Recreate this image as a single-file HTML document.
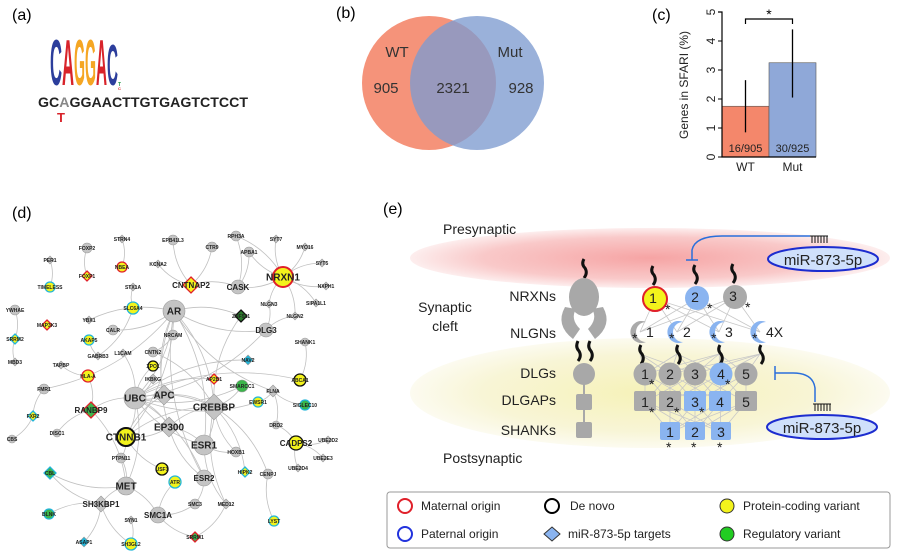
<!DOCTYPE html>
<html><head><meta charset="utf-8">
<style>
html,body{margin:0;padding:0;background:#fff;}
svg{display:block;font-family:"Liberation Sans","DejaVu Sans",sans-serif;}
</style></head>
<body>
<svg id="fig" width="900" height="551" viewBox="0 0 900 551" xmlns="http://www.w3.org/2000/svg">
<defs>
<radialGradient id="pinkG" cx="50%" cy="50%" r="50%"><stop offset="0" stop-color="#f6a4a4"/><stop offset="0.7" stop-color="#f9c9c9"/><stop offset="1" stop-color="#fdeeee"/></radialGradient>
<radialGradient id="yelG" cx="50%" cy="50%" r="50%"><stop offset="0" stop-color="#f6f2b8"/><stop offset="0.7" stop-color="#f8f5d6"/><stop offset="1" stop-color="#fcfbf0"/></radialGradient>
</defs>

<!-- Panel a -->
<g>
<text x="12" y="20" font-size="16">(a)</text>
<g font-family="Liberation Sans, sans-serif" font-weight="bold">
<text transform="translate(50,85) scale(1,3.8)" font-size="17" fill="#2c3e9c" textLength="12" lengthAdjust="spacingAndGlyphs">C</text>
<text transform="translate(62,85) scale(1,3.8)" font-size="17" fill="#d8232a" textLength="12" lengthAdjust="spacingAndGlyphs">A</text>
<text transform="translate(74,85) scale(1,3.8)" font-size="17" fill="#f5a623" textLength="11" lengthAdjust="spacingAndGlyphs">G</text>
<text transform="translate(85,85) scale(1,3.8)" font-size="17" fill="#f5a623" textLength="11" lengthAdjust="spacingAndGlyphs">G</text>
<text transform="translate(96,85) scale(1,3.8)" font-size="17" fill="#d8232a" textLength="11" lengthAdjust="spacingAndGlyphs">A</text>
<text transform="translate(107,85) scale(1,3.4)" font-size="17" fill="#2c3e9c" textLength="11" lengthAdjust="spacingAndGlyphs">C</text>
<text x="118" y="86" font-size="5" fill="#2a9c4a">T</text>
<text x="118" y="90" font-size="4" fill="#d8232a">C</text>
</g>
<text x="38" y="107" font-size="14" font-weight="bold" fill="#222" textLength="210" lengthAdjust="spacingAndGlyphs">GC<tspan fill="#888">A</tspan>GGAACTTGTGAGTCTCCT</text>
<text x="57" y="122" font-size="13" font-weight="bold" fill="#d8232a">T</text>
</g>

<!-- Panel b -->
<g>
<text x="336" y="18" font-size="16">(b)</text>
<ellipse cx="429" cy="83" rx="67" ry="67" fill="#f4876b" opacity="0.9"/>
<ellipse cx="477" cy="83" rx="67" ry="67" fill="#7e9bd0" opacity="0.78"/>
<g font-size="15" fill="#333" text-anchor="middle">
<text x="397" y="57">WT</text>
<text x="510" y="57">Mut</text>
<text x="386" y="93">905</text>
<text x="453" y="93">2321</text>
<text x="521" y="93">928</text>
</g>
</g>

<!-- Panel c -->
<g id="panelC">
<text x="652" y="20" font-size="16">(c)</text>
<text transform="translate(688,85) rotate(-90)" font-size="12" text-anchor="middle" fill="#222">Genes in SFARI (%)</text>
</g>

<!-- Panel d -->
<g>
<text x="12" y="218" font-size="16">(d)</text>
<g id="edges" fill="none" stroke="#c0c0c0" stroke-width="0.8"></g>
<g id="nodes"></g>
</g>

<!-- Panel e -->
<g>
<text x="383" y="214" font-size="16">(e)</text>
<ellipse cx="650" cy="258" rx="240" ry="30" fill="url(#pinkG)"/>
<ellipse cx="650" cy="393" rx="240" ry="55" fill="url(#yelG)"/>
<g font-size="14" fill="#222">
<text x="443" y="234">Presynaptic</text>
<text x="445" y="312" text-anchor="middle">Synaptic</text>
<text x="445" y="331" text-anchor="middle">cleft</text>
<text x="443" y="463">Postsynaptic</text>
<g text-anchor="end">
<text x="556" y="301">NRXNs</text>
<text x="556" y="338">NLGNs</text>
<text x="556" y="378">DLGs</text>
<text x="556" y="405">DLGAPs</text>
<text x="556" y="435">SHANKs</text>
</g>
</g>
<g fill="#a8a8a8">
<path d="M584 259 q-3 5 1 9 q3 5 -1 10" stroke="#111" stroke-width="3" fill="none"/>
<ellipse cx="584" cy="297" rx="15" ry="19"/>
<path d="M565 307 q-10 18 8 32 l7 -10 q-10 -10 -4 -20 z"/>
<path d="M603 307 q10 18 -8 32 l-7 -10 q10 -10 4 -20 z"/>
<path d="M578 341 q-3 6 1 10 q3 5 -1 10 M590 341 q-3 6 1 10 q3 5 -1 10" stroke="#111" stroke-width="3" fill="none"/>
<circle cx="584" cy="374" r="11"/>
<line x1="584" y1="384" x2="584" y2="430" stroke="#a8a8a8" stroke-width="2"/>
<rect x="576" y="394" width="16" height="16" rx="2"/>
<rect x="576" y="422" width="16" height="16" rx="2"/>
</g>
<g id="synLines" stroke="#c8c8c8" stroke-width="0.8" fill="none"></g>
<g id="synNodes" font-size="14" fill="#222"></g>
<g>
<path d="M692 260 l0 -10 q3 -14 30 -14 l88 0" stroke="#2a6fdb" stroke-width="1.5" fill="none"/>
<line x1="686" y1="260" x2="698" y2="260" stroke="#2a6fdb" stroke-width="1.5"/>
<path d="M810 236 h18 M812 236 v7 M815 236 v7 M818 236 v7 M821 236 v7 M824 236 v7 M827 236 v7" stroke="#111" stroke-width="1"/>
<ellipse cx="823" cy="259" rx="55" ry="12" fill="#cfe0fb" stroke="#1c2ccf" stroke-width="2"/>
<text x="823" y="265" font-size="15" text-anchor="middle" fill="#222">miR-873-5p</text>
</g>
<g>
<path d="M815 402 l0 -14 q-2 -15 -22 -15 l-18 0" stroke="#2a6fdb" stroke-width="1.5" fill="none"/>
<line x1="775" y1="366" x2="775" y2="380" stroke="#2a6fdb" stroke-width="1.5"/>
<path d="M813 404 h18 M815 404 v7 M818 404 v7 M821 404 v7 M824 404 v7 M827 404 v7 M830 404 v7" stroke="#111" stroke-width="1"/>
<ellipse cx="822" cy="427" rx="55" ry="12" fill="#cfe0fb" stroke="#1c2ccf" stroke-width="2"/>
<text x="822" y="433" font-size="15" text-anchor="middle" fill="#222">miR-873-5p</text>
</g>
<g>
<rect x="387" y="492" width="503" height="56" rx="3" fill="#fff" stroke="#999" stroke-width="1"/>
<g font-size="12" fill="#222">
<g><circle cx="405" cy="506" r="7" fill="none" stroke="#e0202a" stroke-width="2"/><text x="421" y="510">Maternal origin</text></g>
<g><circle cx="405" cy="534" r="7" fill="none" stroke="#2233dd" stroke-width="2"/><text x="421" y="538">Paternal origin</text></g>
<g><circle cx="552" cy="506" r="7" fill="none" stroke="#000" stroke-width="2"/><text x="570" y="510">De novo</text></g>
<g><path d="M552 527 l8 7 l-8 7 l-8 -7 z" fill="#8ab4f0" stroke="#333" stroke-width="1"/><text x="568" y="538">miR-873-5p targets</text></g>
<g><circle cx="727" cy="506" r="7" fill="#f3f31c" stroke="#333" stroke-width="1"/><text x="743" y="510">Protein-coding variant</text></g>
<g><circle cx="727" cy="534" r="7" fill="#22cc22" stroke="#333" stroke-width="1"/><text x="743" y="538">Regulatory variant</text></g>
</g>
</g>
</g>
</svg>

<script>
const NS = "http://www.w3.org/2000/svg";
function mk(tag, attrs, parent){const e=document.createElementNS(NS,tag);for(const k in attrs)e.setAttribute(k,attrs[k]);parent.appendChild(e);return e;}

/* ---------- Panel c chart data ---------- */
const barCategories = ["WT","Mut"];
const barValues = [1.75, 3.25];
const errLow = [0.85, 2.05];
const errHigh = [2.65, 4.4];
const barLabels = ["16/905","30/925"];
const yTicks = [0,1,2,3,4,5];
const barColors = ["#f4876b","#8fa8d8"];

const pc = document.getElementById('panelC');
const x0 = 722, bw = 47, yBase = 157, yTop = 12, yMax = 5;
function yS(v){return yBase - (v/yMax)*(yBase-yTop);}
function xS(i){return x0 + i*bw;}
barCategories.forEach((c,i)=>{
  const r = mk('rect',{x:xS(i),y:yS(barValues[i]),width:bw,height:yBase-yS(barValues[i]),fill:barColors[i],stroke:'#555','stroke-width':0.6},pc);
  
  
  const e = mk('line',{x1:xS(i)+bw/2,x2:xS(i)+bw/2,y1:yS(errLow[i]),y2:yS(errHigh[i]),stroke:'#000','stroke-width':1.3},pc);
  
  
  const t = mk('text',{x:xS(i)+bw/2,y:yBase-5,'font-size':11,'text-anchor':'middle',fill:'#222'},pc);
  t.textContent = barLabels[i];
  
  
  const xl = mk('text',{x:xS(i)+bw/2,y:171,'font-size':12,'text-anchor':'middle',fill:'#222'},pc);
  xl.textContent = c;
  
  
});
const ax = mk('path',{d:`M${x0-4} ${yTop} H${x0} V${yBase} H${x0+2*bw}`,stroke:'#000','stroke-width':1.2,fill:'none'},pc);


yTicks.forEach(v=>{
  mk('line',{x1:x0-4,x2:x0,y1:yS(v),y2:yS(v),stroke:'#000','stroke-width':1},pc);
  const t = mk('text',{transform:`translate(${x0-7},${yS(v)}) rotate(-90)`,'font-size':12,'text-anchor':'middle',fill:'#222'},pc);
  t.textContent = v;
  
  
});
const br = mk('path',{d:`M${xS(0)+bw/2} 24 V19 H${xS(1)+bw/2} V24`,stroke:'#000','stroke-width':1.2,fill:'none'},pc);


const st = mk('text',{x:(xS(0)+xS(1))/2+bw/2,y:19,'font-size':14,'text-anchor':'middle'},pc);
st.textContent='*';



/* ---------- Panel d network ---------- */
const G='#c4c4c4',Y='#f3f31c',GR='#3bb54a',R='#e0202a',C='#22b5d8',K='#111',S='#999';
const nodes = [
["NRXN1",283,277,'c',10,Y,R],["CNTNAP2",191,285,'d',8,Y,R],["CASK",238,287,'c',7,G,S],["AR",174,311,'c',11,G,S],
["ZNF521",241,316,'d',6,'#2a7a2a',K],["DLG3",266,330,'c',7,G,S],["UBC",135,398,'c',11,G,S],["APC",164,395,'d',10,G,S],
["CREBBP",214,407,'d',13,G,S],["EP300",169,427,'d',10,G,S],["ESR1",204,445,'c',10,G,S],["CTNNB1",126,437,'c',9,Y,K],
["MET",126,486,'c',9,G,S],["SH3KBP1",101,504,'d',8,G,S],["SMC1A",158,515,'c',8,G,S],["ESR2",204,478,'c',8,G,S],
["RANBP9",91,410,'d',8,GR,R],["PER1",50,260,'d',4,G,S],["TIMELESS",50,287,'c',5,Y,C],["FOXP2",87,248,'c',5,G,S],
["FOXP1",87,276,'d',5,Y,R],["STRN4",122,239,'d',4,G,S],["NBEA",122,267,'c',5,Y,R],["EPB41L3",173,240,'c',5,G,S],
["KCNA2",158,264,'d',4,G,S],["CTR9",212,247,'c',5,G,S],["RPH3A",236,236,'c',5,G,S],["APBA1",249,252,'c',5,G,S],
["SYT7",276,239,'d',4,G,S],["MYO16",305,247,'d',4,G,S],["SYT5",322,263,'d',4,G,S],["NXPH1",326,286,'d',4,G,S],
["SIPA1L1",316,303,'d',4,G,S],["NLGN3",269,304,'d',4,G,S],["NLGN2",295,316,'d',4,G,S],["STX1A",133,287,'d',4,G,S],
["SLC6A4",133,308,'c',6,Y,C],["YWHAE",15,310,'c',5,G,S],["MAP3K3",47,325,'d',5,Y,R],["SRRM2",15,339,'d',5,Y,C],
["MBD3",15,362,'d',4,G,S],["YBX1",89,320,'d',4,G,S],["CALR",113,330,'c',5,G,S],["AKAP5",89,340,'c',5,Y,C],
["NRCAM",173,335,'c',5,G,S],["GABRB3",98,356,'d',4,G,S],["L1CAM",123,353,'d',4,G,S],["CNTN2",153,352,'c',5,G,S],
["XPO1",153,366,'c',5,Y,K],["TAPBP",61,365,'d',4,G,S],["HLA-A",88,376,'c',6,Y,R],["IKBKG",153,379,'d',5,G,S],
["AP2B1",214,379,'d',5,Y,R],["NAV2",248,360,'d',5,C,S],["SHANK1",305,342,'c',4,G,S],["ABCA1",300,380,'c',6,Y,K],
["SMARCC1",242,386,'c',6,GR,S],["FLNA",273,391,'d',6,G,S],["EWSR1",258,402,'c',5,Y,C],["SIGLEC10",305,405,'c',5,GR,C],
["FMR1",44,389,'c',5,G,S],["FXR2",33,416,'d',5,Y,C],["CBS",12,439,'c',4,G,S],["DISC1",57,433,'c',4,G,S],
["DRD2",276,425,'c',4,G,S],["CADPS2",296,443,'c',7,Y,K],["UBE2D2",328,440,'d',4,G,S],["UBE2E3",323,458,'d',4,G,S],
["UBE2D4",298,468,'d',4,G,S],["HOXB1",236,452,'c',5,G,S],["PTPN11",121,458,'c',5,G,S],["CBL",50,473,'d',6,GR,C],
["USF1",162,469,'c',6,Y,K],["ATR",175,482,'c',6,Y,C],["HIPK2",245,472,'d',5,Y,C],["CENPJ",268,474,'c',5,G,S],
["MED12",226,504,'d',5,G,S],["SMC3",195,504,'c',5,G,S],["LYST",274,521,'c',5,Y,C],["BLNK",49,514,'c',5,GR,C],
["SYN1",131,520,'d',4,G,S],["ASAP1",84,542,'d',5,C,S],["SH3GL2",131,544,'c',6,Y,C],["SRRM1",195,537,'d',5,GR,R]
];
const edges = [
["PER1","TIMELESS"],["FOXP2","FOXP1"],["STRN4","NBEA"],["EPB41L3","CNTNAP2"],["CTR9","CNTNAP2"],["KCNA2","CNTNAP2"],
["CNTNAP2","CASK"],["CASK","NRXN1"],["RPH3A","NRXN1"],["APBA1","NRXN1"],["APBA1","CASK"],["SYT7","NRXN1"],["MYO16","NRXN1"],
["SYT5","NRXN1"],["NXPH1","NRXN1"],["SIPA1L1","NRXN1"],["NLGN3","NRXN1"],["NLGN2","NRXN1"],["NLGN3","DLG3"],["NLGN2","DLG3"],
["RPH3A","CASK"],["STX1A","SLC6A4"],["YWHAE","SRRM2"],["SRRM2","MBD3"],["YBX1","AR"],["CALR","AR"],["SLC6A4","GABRB3"],
["AKAP5","GABRB3"],["AR","UBC"],["AR","APC"],["AR","CREBBP"],["AR","EP300"],["AR","ESR1"],["AR","ESR2"],["AR","CTNNB1"],["AR","FLNA"],
["AR","ZNF521"],["AR","DLG3"],["UBC","CREBBP"],["UBC","APC"],["UBC","EP300"],["UBC","ESR1"],["UBC","MET"],["UBC","RANBP9"],
["UBC","CTNNB1"],["UBC","SMARCC1"],["UBC","ESR2"],["APC","CTNNB1"],["APC","CREBBP"],["CREBBP","EP300"],["CREBBP","ESR1"],
["CREBBP","SMARCC1"],["CREBBP","HIPK2"],["CREBBP","CTNNB1"],["EP300","ESR1"],["EP300","ESR2"],["EP300","CTNNB1"],
["ESR1","HOXB1"],["ESR2","SMC3"],["TAPBP","HLA-A"],["HLA-A","RANBP9"],["FMR1","FXR2"],["FXR2","CBS"],["FMR1","AR"],
["RANBP9","MET"],["RANBP9","DISC1"],["CTNNB1","PTPN11"],["MET","PTPN11"],["MET","CBL"],["MET","SH3KBP1"],["SH3KBP1","CBL"],
["SH3KBP1","BLNK"],["SH3KBP1","ASAP1"],["SH3KBP1","SH3GL2"],["SYN1","SH3GL2"],["SMC1A","SMC3"],["SMC1A","ATR"],["SMC1A","MET"],
["MED12","SRRM1"],["SMC1A","SRRM1"],["MED12","CREBBP"],["CENPJ","CREBBP"],["LYST","CENPJ"],["DRD2","FLNA"],["DRD2","CADPS2"],
["CADPS2","UBE2D2"],["CADPS2","UBE2E3"],["CADPS2","UBE2D4"],["SHANK1","ABCA1"],["FLNA","SIGLEC10"],["FLNA","EWSR1"],
["CNTN2","NRCAM"],["L1CAM","UBC"],["XPO1","UBC"],["IKBKG","UBC"],["AP2B1","UBC"],["USF1","CTNNB1"],["NAV2","UBC"],
["DLG3","UBC"],["ABCA1","UBC"],["EWSR1","UBC"],["ZNF521","CREBBP"],["CNTN2","CREBBP"],["ESR1","MED12"],["HOXB1","CREBBP"]
];
const idx={};nodes.forEach(n=>idx[n[0]]=n);
const eg=document.getElementById('edges');
edges.forEach(([a,b],i)=>{
  const A=idx[a],B=idx[b];
  const mx=(A[1]+B[1])/2,my=(A[2]+B[2])/2,dx=B[1]-A[1],dy=B[2]-A[2];
  const k=(i%2?0.18:-0.18);
  const p=mk('path',{d:`M${A[1]} ${A[2]} Q${mx-dy*k} ${my+dx*k} ${B[1]} ${B[2]}`},eg);
  
  
});
const ng=document.getElementById('nodes');
nodes.forEach(n=>{
  const [nm,x,y,sh,s,f,st]=n;
  const g=mk('g',{},ng);
  
  
  const sw = (st===S)?0.6:(s>=9?2:1.3);
  if(sh==='c') mk('circle',{cx:x,cy:y,r:s,fill:f,stroke:st,'stroke-width':sw},g);
  else mk('path',{d:`M${x} ${y-s} L${x+s} ${y} L${x} ${y+s} L${x-s} ${y} Z`,fill:f,stroke:st,'stroke-width':sw},g);
  const fs = s>=9?10:(s>=7?8:5);
  const t=mk('text',{x:x,y:y+fs*0.35,'font-size':fs,'font-weight':'bold','text-anchor':'middle',fill:'#222'},g);
  t.textContent = nm;
});

/* ---------- Panel e synapse ---------- */
const sl=document.getElementById('synLines'), sn=document.getElementById('synNodes');
const nrx=[[655,299,'1',Y,R],[697,298,'2','#8ab4f0',null],[735,297,'3','#aaa',null]];
const nlg=[[640,332,'1','#aaa'],[677,332,'2','#8ab4f0'],[719,332,'3','#8ab4f0'],[760,332,'4X','#8ab4f0']];
const dlg=[[645,374,'1','#aaa'],[670,374,'2','#aaa'],[695,374,'3','#aaa'],[721,374,'4','#8ab4f0'],[746,374,'5','#aaa']];
const dgp=[[645,402,'1','#aaa'],[670,402,'2','#aaa'],[695,402,'3','#8ab4f0'],[720,402,'4','#8ab4f0'],[746,402,'5','#aaa']];
const shk=[[670,432,'1','#8ab4f0'],[695,432,'2','#8ab4f0'],[721,432,'3','#8ab4f0']];
nrx.forEach(a=>nlg.forEach(b=>mk('line',{x1:a[0],y1:a[1],x2:b[0],y2:b[1]},sl)));
nlg.forEach((a,i)=>dlg.forEach((b,j)=>{if(Math.abs(i-j)<3)mk('line',{x1:a[0],y1:a[1]+22,x2:b[0],y2:b[1]},sl);}));
dlg.forEach((a,i)=>dgp.forEach((b,j)=>{if(Math.abs(i-j)<3)mk('line',{x1:a[0],y1:a[1],x2:b[0],y2:b[1]},sl);}));
dgp.forEach(a=>shk.forEach(b=>mk('line',{x1:a[0],y1:a[1],x2:b[0],y2:b[1]},sl)));
function squig(x,y,parent){mk('path',{d:`M${x} ${y} q-3 5 1 9 q3 5 -1 10`,stroke:'#111','stroke-width':3,fill:'none'},parent);}
nrx.forEach(n=>{
  const g=mk('g',{},sn);
  
  
  squig(n[0]-2,n[1]-33,g);
  mk('circle',{cx:n[0],cy:n[1],r:12,fill:n[3],stroke:n[4]||'none','stroke-width':2},g);
  const t=mk('text',{x:n[0]-2,y:n[1]+4,'text-anchor':'middle'},g);t.textContent=n[2];
  const s=mk('text',{x:n[0]+10,y:n[1]+15,'font-size':14},g);s.textContent='*';
});
nlg.forEach(n=>{
  const g=mk('g',{},sn);
  
  
  mk('path',{d:`M${n[0]+6} ${n[1]-10} A11 11 0 1 0 ${n[0]+6} ${n[1]+10} A7 7 0 1 1 ${n[0]+6} ${n[1]-10} Z`,fill:n[3]},g);
  squig(n[0]+1,n[1]+13,g);
  const s=mk('text',{x:n[0]-8,y:n[1]+11,'font-size':14},g);s.textContent='*';
  const t=mk('text',{x:n[0]+6,y:n[1]+5},g);t.textContent=n[2];
});
dlg.forEach((n,i)=>{
  const g=mk('g',{},sn);
  
  
  mk('circle',{cx:n[0],cy:n[1],r:11.5,fill:n[3]},g);
  const t=mk('text',{x:n[0],y:n[1]+5,'text-anchor':'middle'},g);t.textContent=n[2];
  if(i===0||i===3){const s=mk('text',{x:n[0]+4,y:n[1]+15,'font-size':14},g);s.textContent='*';}
});
dgp.forEach((n,i)=>{
  const g=mk('g',{},sn);
  
  
  mk('rect',{x:n[0]-11,y:n[1]-11,width:22,height:20,rx:2,fill:n[3]},g);
  const t=mk('text',{x:n[0],y:n[1]+5,'text-anchor':'middle'},g);t.textContent=n[2];
  if(i<3){const s=mk('text',{x:n[0]+4,y:n[1]+15,'font-size':14},g);s.textContent='*';}
});
shk.forEach(n=>{
  const g=mk('g',{},sn);
  
  
  mk('rect',{x:n[0]-10,y:n[1]-10,width:20,height:18,rx:2,fill:n[3]},g);
  const t=mk('text',{x:n[0],y:n[1]+5,'text-anchor':'middle'},g);t.textContent=n[2];
  const s=mk('text',{x:n[0]-4,y:n[1]+20,'font-size':14},g);s.textContent='*';
});
</script>
</body></html>
